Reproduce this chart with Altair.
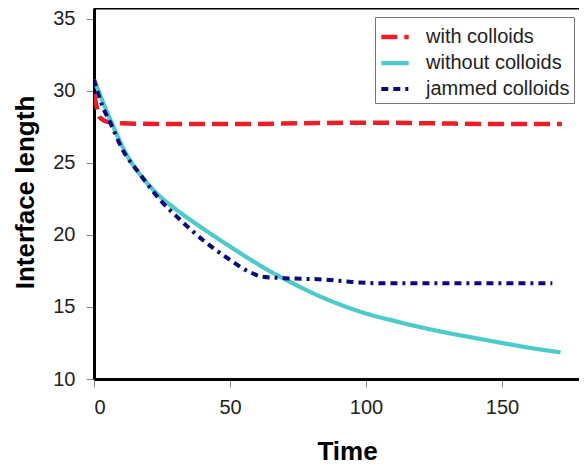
import altair as alt
import pandas as pd

series_names = ["with colloids", "without colloids", "jammed colloids"]
series_colors = ["#EE1C24", "#4CCBCB", "#0B0B7E"]
series_dash = [[16, 7], [1, 0], [7, 5, 7, 5, 3, 5]]
series_width = [4.5, 4, 5]

time_with = [0, 1, 2, 5, 10, 30, 50, 75, 100, 125, 150, 172]
len_with = [29.8, 28.9, 28.2, 27.85, 27.75, 27.7, 27.7, 27.75, 27.8, 27.75, 27.7, 27.7]

time_without = [0, 6, 13, 18, 23, 30, 40, 50, 57, 65, 72, 80, 90, 100, 110, 120, 130, 140, 150, 160, 171.5]
len_without = [30.8, 28.0, 25.25, 23.95, 22.9, 21.8, 20.45, 19.2, 18.35, 17.45, 16.75, 16.0, 15.2, 14.55, 14.05, 13.6, 13.2, 12.85, 12.5, 12.17, 11.85]

time_jammed = [0, 3, 6, 10, 17, 24, 32, 40, 49, 57, 62, 70, 85, 94, 105, 130, 150, 168.5]
len_jammed = [30.8, 29.0, 27.8, 26.1, 24.2, 22.5, 21.0, 19.65, 18.4, 17.45, 17.1, 17.0, 16.9, 16.75, 16.65, 16.65, 16.65, 16.65]

x_ticks = [0, 50, 100, 150]
y_ticks = [10, 15, 20, 25, 30, 35]
x_domain = [0, 178.3]
y_domain = [10, 35.76]

rows = []
for name, ts, vs in [(series_names[0], time_with, len_with),
                     (series_names[1], time_without, len_without),
                     (series_names[2], time_jammed, len_jammed)]:
    for t, v in zip(ts, vs):
        rows.append({"Time": t, "Length": v, "series": name})
df = pd.DataFrame(rows)

W, H = 485, 371
FONT = "Liberation Sans"

legend = alt.Legend(
    title=None, orient="none", legendX=281, legendY=9,
    symbolType="stroke", symbolSize=750, symbolStrokeWidth=5,
    labelFontSize=20, labelFont=FONT, labelColor="#222222", labelOffset=15,
    padding=4, strokeColor="#777777", fillColor="white", rowPadding=0,
)

lines = alt.Chart(df).mark_line(interpolate="monotone", clip=True).encode(
    x=alt.X("Time:Q", scale=alt.Scale(domain=x_domain, nice=False, zero=False),
            axis=alt.Axis(values=x_ticks, title="Time", grid=False,
                          domainColor="black", domainWidth=3,
                          tickColor="#888888", tickSize=8, tickWidth=1,
                          labelFont=FONT, labelFontSize=20, labelColor="#222222",
                          labelPadding=10,
                          titleFont=FONT, titleFontSize=26, titleFontWeight="bold",
                          titleColor="black", titleX=253, titleY=80,
                          titleBaseline="alphabetic", titleAlign="center")),
    y=alt.Y("Length:Q", scale=alt.Scale(domain=y_domain, nice=False, zero=False),
            axis=alt.Axis(values=y_ticks, title="Interface length", grid=False,
                          domainColor="black", domainWidth=3,
                          tickColor="#888888", tickSize=8, tickWidth=1,
                          labelFont=FONT, labelFontSize=20, labelColor="#222222",
                          labelPadding=11,
                          titleFont=FONT, titleFontSize=26, titleFontWeight="bold",
                          titleColor="black", titleX=-61, titleY=184,
                          titleBaseline="alphabetic", titleAlign="center", titleAngle=270)),
    color=alt.Color("series:N", scale=alt.Scale(domain=series_names, range=series_colors),
                    legend=legend, sort=series_names),
    strokeDash=alt.StrokeDash("series:N", scale=alt.Scale(domain=series_names, range=series_dash),
                              legend=legend, sort=series_names),
    strokeWidth=alt.StrokeWidth("series:N", scale=alt.Scale(domain=series_names, range=series_width),
                                legend=None),
)

top_border = alt.Chart(pd.DataFrame({"a": [0]})).mark_rule(color="black", strokeWidth=3).encode(
    x=alt.value(0), x2=alt.value(W), y=alt.value(0)
)

chart = alt.layer(lines, top_border).properties(
    width=W, height=H,
    autosize=alt.AutoSizeParams(type="none"),
    padding={"left": 86, "top": 0, "right": 0, "bottom": 86},
).configure_view(stroke=None)

chart.save("out.html", embed_options={"renderer": "svg", "actions": False})
